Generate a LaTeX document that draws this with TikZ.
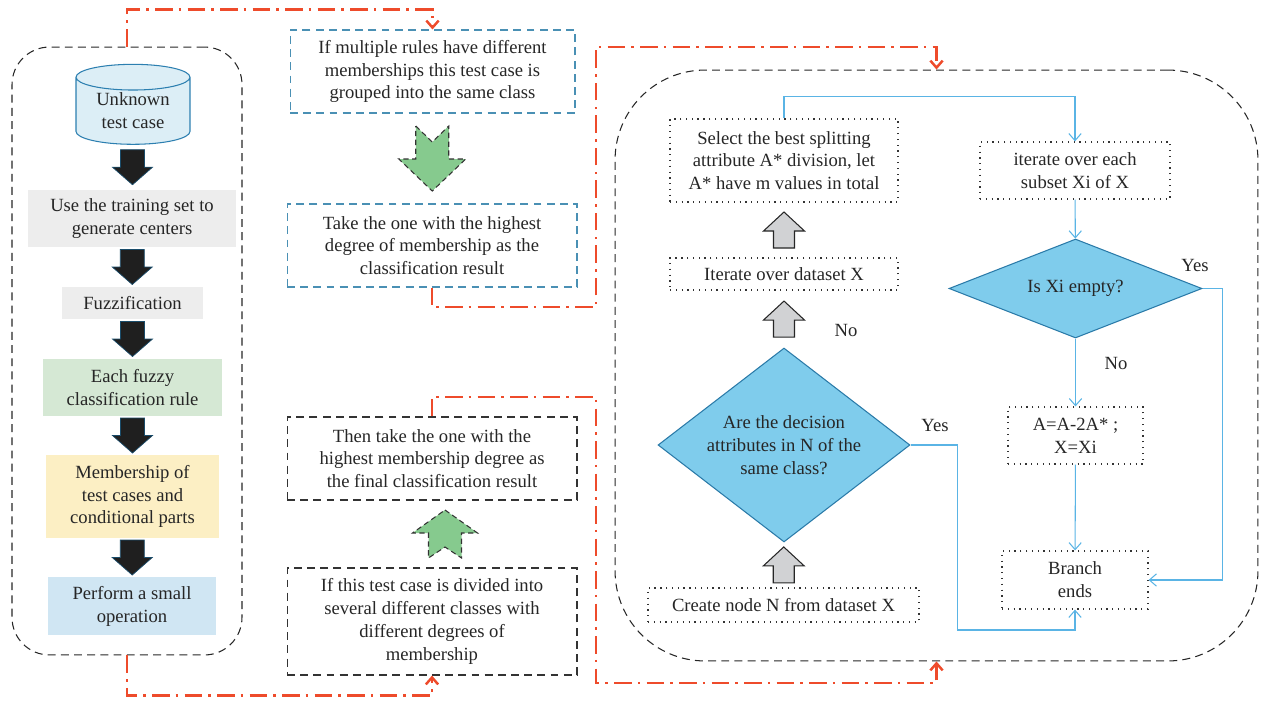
\documentclass[tikz,border=0pt]{standalone}
\usepackage{fontspec}
\setmainfont{Liberation Serif}
\usetikzlibrary{shapes.geometric,arrows.meta,calc}
\definecolor{redline}{HTML}{EE4B2B}
\definecolor{blueline}{HTML}{5AB4E5}
\definecolor{boxblue}{HTML}{4A90B4}
\definecolor{cylfill}{HTML}{DCEEF6}
\definecolor{cylborder}{HTML}{2C7FB0}
\definecolor{greyfill}{HTML}{EDEDED}
\definecolor{greenfill}{HTML}{D5E8D4}
\definecolor{yellowfill}{HTML}{FCEFC4}
\definecolor{lightblue}{HTML}{D0E6F3}
\definecolor{greenarrow}{HTML}{86CA8E}
\definecolor{greyarrow}{HTML}{D1D2D4}
\definecolor{diafill}{HTML}{7FCCEC}
\definecolor{diaborder}{HTML}{2A7AA8}

\tikzset{
  box/.style={align=center, inner sep=0pt, text=black!85},
  container/.style={draw=black!85, dash pattern=on 4.5pt off 3pt, line width=0.6pt},
  dashbox/.style={box, draw=#1, dash pattern=on 4.5pt off 3pt, line width=0.6pt},
  dotbox/.style={box, draw=black!80, dash pattern=on 0.7pt off 2.6pt, line width=0.7pt},
  decision/.style={diamond, draw=diaborder, fill=diafill, aspect=1.3, align=center,
    inner sep=0pt, line width=0.6pt, text=black!85},
  redc/.style={draw=redline, line width=1.4pt, dash pattern=on 10pt off 3.5pt on 1.5pt off 3.5pt,
    -{Straight Barb[length=4pt,width=7pt]}},
  bluec/.style={draw=blueline, line width=0.6pt, -{Straight Barb[length=4pt,width=7pt]}},
  blkdown/.pic={
    \filldraw[fill=black!88, draw=cylborder!60!black, line width=0.4pt]
      (-12,-17.5) -- (12,-17.5) -- (12,0) -- (20,0) -- (0,17.5) -- (-20,0) -- (-12,0) -- cycle;},
  greyup/.pic={
    \filldraw[fill=greyarrow, draw=black!85, line width=0.6pt]
      (-10.5,18) -- (-10.5,1) -- (-20.5,1) -- (0,-18) -- (20.5,1) -- (10.5,1) -- (10.5,18) -- cycle;},
  greendown/.pic={
    \filldraw[fill=greenarrow, draw=black!80, line width=0.6pt, dash pattern=on 3pt off 2pt]
      (-16.5,-32.5) -- (0,-16.5) -- (16.5,-32.5) -- (16.5,0.5) -- (33.5,0.5) -- (0,32.5)
      -- (-33.5,0.5) -- (-16.5,0.5) -- cycle;},
  greenup/.pic={
    \filldraw[fill=greenarrow, draw=black!80, line width=0.6pt, dash pattern=on 3pt off 2pt]
      (0,-24) -- (32.5,-1) -- (16.5,-1) -- (16.5,24) -- (0,13) -- (-16.5,24) -- (-16.5,-1)
      -- (-32.5,-1) -- cycle;},
}

\begin{document}
\begin{tikzpicture}[x=0.02cm, y=-0.02cm, font=\fontsize{10.6}{13}\selectfont]
  \useasboundingbox (0,0) rectangle (1263,703);

  % containers
  \node[container, rounded corners=0.75cm, minimum width=4.6cm, minimum height=12.16cm] (lbox) at (127,351) {};
  \node[container, rounded corners=1.8cm, minimum width=12.86cm, minimum height=11.82cm] (rbox) at (936.5,365.5) {};

  % left column
  \node[cylinder, shape border rotate=90, aspect=0.35, draw=cylborder, fill=cylfill, line width=0.6pt,
    minimum width=2.28cm, minimum height=1.6cm, box] (cyl) at (133,111) {Unknown\\test case};
  \node[box, fill=greyfill, minimum width=4.16cm, minimum height=1.14cm] (train) at (132,218.5)
    {Use the training set to\\generate centers};
  \node[box, fill=greyfill, minimum width=2.82cm, minimum height=0.64cm] (fuzz) at (132.5,303) {Fuzzification};
  \node[box, fill=greenfill, minimum width=3.58cm, minimum height=1.14cm] (rule) at (132.5,387.5)
    {Each fuzzy\\classification rule};
  \node[box, fill=yellowfill, minimum width=3.46cm, minimum height=1.66cm] (member) at (132.5,496.5)
    {Membership of\\test cases and\\conditional parts};
  \node[box, fill=lightblue, minimum width=3.36cm, minimum height=1.16cm] (small) at (132,606)
    {Perform a small\\operation};

  \pic at ($(cyl.south)!0.5!(train.north)$) {blkdown};
  \pic at ($(train.south)!0.5!(fuzz.north)$) {blkdown};
  \pic at ($(fuzz.south)!0.5!(rule.north)$) {blkdown};
  \pic at ($(rule.south)!0.5!(member.north)$) {blkdown};
  \pic at ($(member.south)!0.5!(small.north)$) {blkdown};

  % middle column
  \node[dashbox=boxblue, minimum width=5.7cm, minimum height=1.66cm] (multi) at (432.5,71.5)
    {If multiple rules have different\\memberships this test case is\\grouped into the same class};
  \node[dashbox=boxblue, minimum width=5.8cm, minimum height=1.66cm] (highest) at (432,245.5)
    {Take the one with the highest\\degree of membership as the\\classification result};
  \node[dashbox=black!80, minimum width=5.8cm, minimum height=1.66cm] (final) at (432,458.5)
    {Then take the one with the\\highest membership degree as\\the final classification result};
  \node[dashbox=black!80, minimum width=5.8cm, minimum height=2.14cm] (divided) at (432,621.5)
    {If this test case is divided into\\several different classes with\\different degrees of\\membership};

  \pic at ($(multi.south)!0.5!(highest.north)$) {greendown};
  \pic at ($(divided.north)!0.5!(final.south)+(13,0)$) {greenup};

  % right flowchart
  \node[dotbox, minimum width=4.56cm, minimum height=1.66cm] (best) at (784,160.5)
    {Select the best splitting\\attribute A* division, let\\A* have m values in total};
  \node[dotbox, minimum width=4.56cm, minimum height=0.64cm] (iter) at (784,274) {Iterate over dataset X};
  \node[decision, minimum width=5.04cm, minimum height=3.88cm] (same) at (784,445)
    {Are the decision\\attributes in N of the\\same class?};
  \node[dotbox, minimum width=5.42cm, minimum height=0.68cm] (create) at (783.5,605) {Create node N from dataset X};
  \node[dotbox, minimum width=3.8cm, minimum height=1.14cm] (subset) at (1075,170.5)
    {iterate over each\\subset Xi of X};
  \node[decision, minimum width=5.06cm, minimum height=1.98cm] (empty) at (1075.5,288.5) {Is Xi empty?};
  \node[dotbox, minimum width=2.7cm, minimum height=1.14cm] (update) at (1075.5,435.5) {A=A-2A* ;\\X=Xi};
  \node[dotbox, minimum width=2.92cm, minimum height=1.16cm] (ends) at (1075,580) {Branch\\ends};

  \pic at ($(best.south)!0.5!(iter.north)$) {greyup};
  \pic at ($(iter.south)!0.5!(same.north)$) {greyup};
  \pic at ($(same.south)!0.5!(create.north)$) {greyup};

  \node[text=black!85] at (846,330) {No};
  \node[text=black!85] at (935,425) {Yes};
  \node[text=black!85] at (1195,265) {Yes};
  \node[text=black!85] at (1116,363) {No};

  \draw[bluec] (best.north) -- ++(0,-22) -| (subset.north);
  \draw[bluec] (subset) -- (empty);
  \draw[bluec] (empty) -- (update);
  \draw[bluec] (update) -- (ends);
  \draw[bluec] (empty.east) -- ++(20,0) |- (ends.east);
  \draw[bluec] (same.east) -- ++(47,0) -- ++(0,185) -| (ends.south);

  % red links between the parts
  \draw[redc] (lbox.north) -- ++(0,-37) -| (multi.north);
  \draw[redc] (lbox.south) -- ++(0,40) -| (divided.south);
  \draw[redc] (highest.south) |- (596,307) -- (596,47) -| (rbox.north);
  \draw[redc] (final.north) |- (596,397) -- (596,683) -| (rbox.south);
\end{tikzpicture}
\end{document}
